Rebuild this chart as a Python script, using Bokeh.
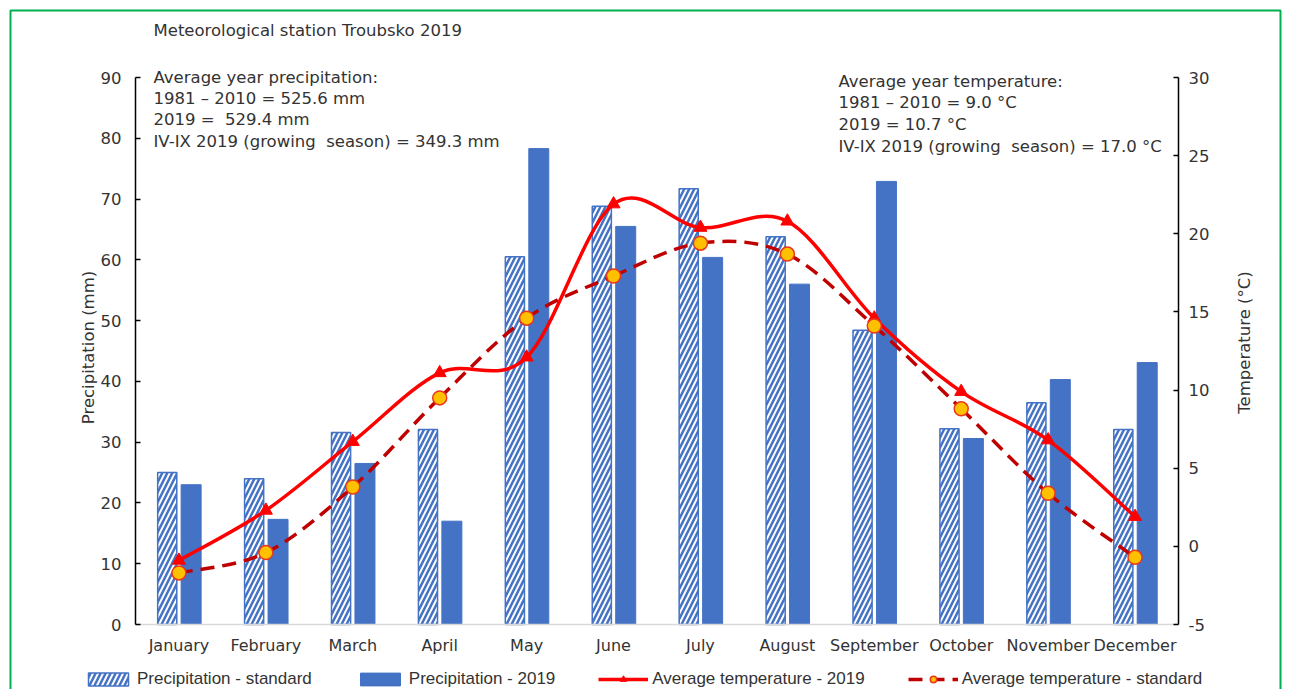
import math
from bokeh.plotting import figure
from bokeh.models import (Range1d, LinearAxis, FixedTicker, Legend, LegendItem,
                          Label, BoxAnnotation)
from bokeh.embed import file_html
from bokeh.resources import INLINE

months = ["January", "February", "March", "April", "May", "June", "July",
          "August", "September", "October", "November", "December"]
precip_standard = [25.0, 24.0, 31.6, 32.1, 60.5, 68.8, 71.7, 63.8, 48.4, 32.2, 36.5, 32.1]
precip_2019 = [23.0, 17.3, 26.5, 17.0, 78.3, 65.5, 60.4, 56.0, 72.9, 30.6, 40.3, 43.1]
temp_2019 = [-0.9, 2.3, 6.7, 11.1, 12.1, 21.9, 20.4, 20.8, 14.6, 9.9, 6.8, 1.9]
temp_standard = [-1.7, -0.4, 3.8, 9.5, 14.6, 17.3, 19.4, 18.7, 14.1, 8.8, 3.4, -0.7]
precip_ticks = [0, 10, 20, 30, 40, 50, 60, 70, 80, 90]
temp_ticks = [-5, 0, 5, 10, 15, 20, 25, 30]

FONT = "DejaVu Sans"
LFONT = "Liberation Sans"
FS = "16.5px"
TXT = "#333333"
BLUE = "#4472C4"
NB = "\u00a0"

# canvas and data-area geometry (pixels)
W, H = 1282, 689
FL, FR, FT, FB = 135, 1178, 77, 624
n = len(months)
pxx = (FR - FL) / n
pxp = (FB - FT) / (precip_ticks[-1] - precip_ticks[0])
pxt = (FB - FT) / (temp_ticks[-1] - temp_ticks[0])

xc = [i + 0.5 for i in range(n)]

p = figure(width=W, height=H,
           x_range=Range1d(-FL / pxx, (W - FL) / pxx),
           y_range=Range1d(-(H - FB) / pxp, precip_ticks[-1] + FT / pxp),
           output_backend="svg", toolbar_location=None,
           min_border=0, min_border_left=0, min_border_right=0,
           min_border_top=0, min_border_bottom=0)
p.title.visible = False
p.extra_y_ranges = {"temp": Range1d(temp_ticks[0] - (H - FB) / pxt,
                                    temp_ticks[-1] + FT / pxt)}
p.xgrid.visible = False
p.ygrid.visible = False
p.outline_line_color = None
p.background_fill_color = "white"
p.border_fill_color = "white"

# x axis
xa = p.xaxis[0]
xa.fixed_location = 0
xa.bounds = (0, n)
xa.ticker = FixedTicker(ticks=xc)
xa.major_label_overrides = {x: m for x, m in zip(xc, months)}
xa.major_tick_in = 0
xa.major_tick_out = 0
xa.minor_tick_in = 0
xa.minor_tick_out = 0
xa.axis_line_color = "#d9d9d9"
xa.axis_line_width = 1.5
xa.major_label_standoff = 11
xa.major_label_text_font = FONT
xa.major_label_text_font_size = "16px"
xa.major_label_text_color = TXT

# left axis
ya = p.yaxis[0]
ya.fixed_location = 0
ya.bounds = (precip_ticks[0], precip_ticks[-1])
ya.ticker = FixedTicker(ticks=precip_ticks)
ya.major_tick_in = 5
ya.major_tick_out = 0
ya.minor_tick_in = 0
ya.minor_tick_out = 0
ya.axis_line_color = "black"
ya.axis_line_width = 1.5
ya.major_tick_line_color = "black"
ya.major_tick_line_width = 1.5
ya.major_label_standoff = 14
ya.major_label_text_font = FONT
ya.major_label_text_font_size = FS
ya.major_label_text_color = TXT

# right axis
ra = LinearAxis(y_range_name="temp", ticker=FixedTicker(ticks=temp_ticks),
                fixed_location=n, bounds=(temp_ticks[0], temp_ticks[-1]))
ra.major_label_overrides = {t: str(t) for t in temp_ticks}
ra.major_tick_in = 5
ra.major_tick_out = 0
ra.minor_tick_in = 0
ra.minor_tick_out = 0
ra.axis_line_color = "black"
ra.axis_line_width = 1.5
ra.major_tick_line_color = "black"
ra.major_tick_line_width = 1.5
ra.major_label_standoff = 10
ra.major_label_text_font = FONT
ra.major_label_text_font_size = FS
ra.major_label_text_color = TXT
p.add_layout(ra, "right")

# bars
r_std = p.vbar(x=[x - 0.135 for x in xc], top=precip_standard, width=0.22, bottom=0,
               fill_color="white", line_color=BLUE, line_width=1.5,
               hatch_pattern="/", hatch_color=BLUE, hatch_weight=2.5, hatch_scale=10)
r_19 = p.vbar(x=[x + 0.14 for x in xc], top=precip_2019, width=0.23, bottom=0,
              fill_color=BLUE, line_color=BLUE, line_width=1)


def bez(ys):
    m = len(ys)
    out = {k: [] for k in ("x0", "y0", "x1", "y1", "cx0", "cy0", "cx1", "cy1")}
    for i in range(m - 1):
        xp, yp = (xc[i - 1], ys[i - 1]) if i > 0 else (xc[i], ys[i])
        xn, yn = (xc[i + 2], ys[i + 2]) if i + 2 < m else (xc[i + 1], ys[i + 1])
        out["x0"].append(xc[i]); out["y0"].append(ys[i])
        out["x1"].append(xc[i + 1]); out["y1"].append(ys[i + 1])
        out["cx0"].append(xc[i] + (xc[i + 1] - xp) / 6)
        out["cy0"].append(ys[i] + (ys[i + 1] - yp) / 6)
        out["cx1"].append(xc[i + 1] - (xn - xc[i]) / 6)
        out["cy1"].append(ys[i + 1] - (yn - ys[i]) / 6)
    return out


r_l19 = p.bezier(**bez(temp_2019), y_range_name="temp", line_color="#FF0000", line_width=3.5)
r_m19 = p.scatter(x=xc, y=temp_2019, y_range_name="temp", marker="triangle", size=13,
                  fill_color="#FF0000", line_color="#FF0000")
r_lst = p.bezier(**bez(temp_standard), y_range_name="temp", line_color="#C00000",
                 line_width=3.5, line_dash="14 8")
r_mst = p.scatter(x=xc, y=temp_standard, y_range_name="temp", marker="circle", size=14,
                  fill_color="#FFC000", line_color="#E8381E", line_width=1.5)


def lab(x, y, text, **kw):
    # x, y in pixels from the top-left of the canvas
    p.add_layout(Label(x=x, y=H - y, x_units="screen", y_units="screen", text=text,
                       text_font=FONT, text_font_size=FS, text_color=TXT, **kw))


lab(153, 30, "Meteorological station Troubsko 2019", text_baseline="middle")
lab(153, 67, "Average year precipitation:\n1981 – 2010 = 525.6 mm\n2019 =" + NB + " 529.4 mm\n"
    "IV-IX 2019 (growing" + NB + " season) = 349.3 mm", text_baseline="top",
    text_line_height=1.13)
lab(838, 71, "Average year temperature:\n1981 – 2010 = 9.0 °C\n2019 = 10.7 °C\n"
    "IV-IX 2019 (growing" + NB + " season) = 17.0 °C", text_baseline="top",
    text_line_height=1.15)
lab(88, 347, "Precipitation (mm)", text_align="center", text_baseline="middle",
    angle=math.pi / 2)
lab(1244, 342, "Temperature (°C)", text_align="center", text_baseline="middle",
    angle=math.pi / 2)

legend = Legend(items=[
    LegendItem(label="Precipitation - standard", renderers=[r_std]),
    LegendItem(label="Precipitation - 2019", renderers=[r_19]),
    LegendItem(label="Average temperature - 2019", renderers=[r_l19, r_m19]),
    LegendItem(label="Average temperature - standard", renderers=[r_lst, r_mst]),
], orientation="horizontal", location=(83, 0), spacing=43, glyph_width=50,
    glyph_height=16, label_standoff=4, padding=0, margin=0, border_line_alpha=0,
    background_fill_alpha=0, label_text_font=LFONT, label_text_font_size="17px",
    label_text_color=TXT)
p.add_layout(legend)

p.add_layout(BoxAnnotation(left=10, right=W - 2, top=H - 10, bottom=-20,
                           left_units="screen", right_units="screen",
                           top_units="screen", bottom_units="screen",
                           fill_alpha=0, line_color="#00B050", line_alpha=1,
                           line_width=2))

open("out.html", "w").write(file_html(p, INLINE))
